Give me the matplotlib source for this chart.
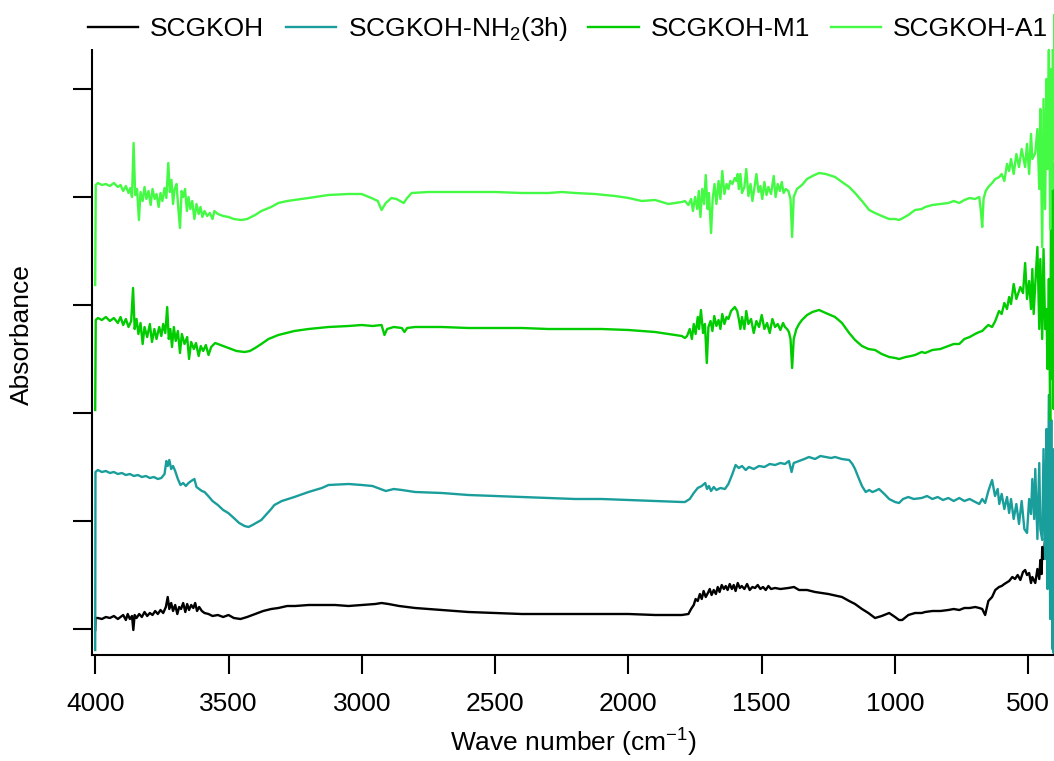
"""
FTIR absorbance spectra of SCGKOH and its modified samples (offset stack)
"""

import matplotlib

matplotlib.use("Agg")
import matplotlib.pyplot as plt

plt.rcParams["font.family"] = ["Liberation Sans", "DejaVu Sans"]
plt.rcParams["mathtext.default"] = "regular"
plt.rcParams["font.size"] = 19

# === spectra: (wavenumber cm-1, absorbance a.u. incl. stacking offset) ===
scgkoh = [
    (4000, -1), (3999, 11), (3990, 11), (3975, 10), (3960, 12), (3945, 11),
    (3930, 13), (3915, 10), (3905, 12), (3895, 14), (3885, 9), (3878, 15),
    (3870, 10), (3862, 13), (3857, -1), (3852, 14), (3845, 11), (3835, 15),
    (3825, 12), (3815, 17), (3805, 13), (3795, 16), (3785, 14), (3775, 18),
    (3765, 15), (3755, 19), (3745, 16), (3735, 22), (3728, 32), (3722, 20),
    (3715, 26), (3708, 18), (3700, 24), (3692, 15), (3685, 22), (3678, 20),
    (3670, 26), (3662, 17), (3655, 25), (3648, 19), (3640, 24), (3632, 21),
    (3625, 26), (3618, 18), (3610, 22), (3600, 18), (3590, 16), (3575, 15),
    (3560, 13), (3540, 14), (3520, 12), (3500, 14), (3480, 11), (3455, 10),
    (3430, 12), (3400, 15), (3370, 18), (3340, 20), (3313, 21), (3280, 23),
    (3250, 23), (3200, 24), (3150, 24), (3100, 24), (3050, 23), (3000, 24),
    (2950, 25), (2926, 26), (2900, 25), (2860, 23), (2800, 21), (2700, 19),
    (2600, 17), (2500, 16), (2400, 15), (2300, 15), (2200, 15), (2100, 15),
    (2000, 15), (1900, 14), (1800, 14), (1775, 15), (1765, 20), (1755, 24),
    (1748, 30), (1740, 28), (1732, 35), (1725, 30), (1718, 38), (1710, 32),
    (1702, 36), (1695, 40), (1688, 34), (1680, 39), (1672, 35), (1665, 42),
    (1658, 37), (1650, 44), (1642, 40), (1635, 43), (1628, 39), (1620, 45),
    (1612, 40), (1605, 44), (1598, 38), (1590, 46), (1582, 41), (1575, 43),
    (1565, 40), (1555, 45), (1545, 39), (1535, 42), (1525, 41), (1515, 44),
    (1505, 40), (1495, 42), (1485, 39), (1475, 43), (1465, 40), (1450, 41),
    (1430, 40), (1400, 41), (1379, 42), (1360, 39), (1330, 39), (1300, 37),
    (1250, 35), (1199, 32), (1172, 28), (1150, 25), (1124, 20), (1100, 16),
    (1075, 11), (1050, 13), (1022, 16), (1000, 12), (985, 9), (973, 9),
    (950, 14), (925, 16), (900, 16), (887, 17), (860, 18), (830, 18),
    (800, 19), (780, 20), (759, 19), (740, 21), (720, 21), (699, 22),
    (684, 21), (673, 20), (662, 14), (650, 28), (636, 32), (624, 39),
    (610, 42), (600, 43), (590, 45), (572, 48), (560, 52), (550, 50),
    (540, 54), (530, 49), (520, 57), (512, 59), (505, 54), (497, 56),
    (490, 46), (485, 52), (474, 46), (466, 60), (459, 50), (455, 69),
    (450, 55), (448, 82), (443, 70), (437, 90), (432, 75), (428, 100),
    (423, 80), (418, 116), (415, 70), (412, 110), (410, 20), (408, 95),
    (405, 40), (403, 85), (400, 30),
]

scgkoh_nh2 = [
    (4000, -21), (3999, 157), (3990, 159), (3975, 157), (3960, 158),
    (3945, 156), (3930, 157), (3915, 155), (3900, 156), (3885, 154),
    (3870, 155), (3855, 153), (3840, 154), (3825, 152), (3810, 153),
    (3795, 151), (3780, 152), (3765, 150), (3752, 151), (3740, 155),
    (3733, 168), (3728, 163), (3722, 169), (3715, 160), (3708, 163),
    (3700, 158), (3690, 150), (3680, 144), (3670, 146), (3660, 143),
    (3650, 146), (3640, 148), (3628, 150), (3620, 142), (3610, 140),
    (3600, 138), (3590, 137), (3576, 133), (3560, 128), (3540, 124),
    (3520, 119), (3501, 116), (3480, 111), (3460, 106), (3440, 103),
    (3425, 102), (3410, 104), (3390, 107), (3377, 109), (3360, 114),
    (3340, 120), (3328, 124), (3300, 128), (3253, 132), (3200, 137),
    (3150, 141), (3125, 144), (3050, 145), (3000, 144), (2960, 143),
    (2930, 140), (2910, 138), (2880, 140), (2850, 139), (2800, 137),
    (2700, 136), (2600, 134), (2500, 133), (2400, 132), (2300, 131),
    (2200, 130), (2100, 130), (2000, 129), (1900, 128), (1800, 127),
    (1788, 127), (1770, 130), (1755, 136), (1740, 141), (1725, 143),
    (1712, 146), (1705, 140), (1698, 143), (1690, 138), (1680, 142),
    (1670, 139), (1655, 141), (1638, 140), (1625, 145), (1610, 155),
    (1598, 164), (1586, 161), (1574, 163), (1560, 159), (1548, 162),
    (1530, 160), (1510, 163), (1490, 162), (1470, 165), (1450, 164),
    (1430, 166), (1413, 165), (1398, 168), (1388, 157), (1380, 166),
    (1360, 168), (1340, 170), (1323, 172), (1300, 170), (1280, 173),
    (1260, 172), (1240, 171), (1225, 172), (1200, 170), (1172, 169),
    (1160, 165), (1150, 160), (1135, 150), (1124, 143), (1110, 137),
    (1097, 139), (1085, 137), (1075, 138), (1060, 140), (1040, 135),
    (1022, 130), (1000, 127), (985, 126), (970, 130), (950, 132),
    (930, 130), (900, 131), (880, 133), (860, 130), (840, 132),
    (820, 129), (800, 131), (780, 128), (759, 131), (740, 128),
    (720, 130), (699, 127), (684, 125), (673, 130), (662, 126),
    (650, 138), (636, 149), (625, 133), (615, 140), (609, 125),
    (600, 135), (590, 120), (580, 132), (572, 116), (565, 130),
    (555, 110), (545, 125), (535, 105), (525, 128), (515, 100),
    (505, 96), (497, 130), (490, 115), (485, 150), (478, 110),
    (474, 160), (466, 90), (459, 166), (455, 100), (448, 89),
    (443, 180), (437, 70), (432, 200), (428, 40), (423, 234),
    (418, 10), (414, 209), (410, -20), (408, 180), (405, -24),
    (402, 150), (400, 100),
]

scgkoh_m1 = [
    (4000, 219), (3998, 309), (3990, 311), (3975, 309), (3960, 312),
    (3945, 308), (3930, 311), (3915, 306), (3905, 312), (3895, 304),
    (3885, 310), (3875, 302), (3865, 308), (3858, 341), (3852, 300),
    (3845, 310), (3838, 295), (3830, 306), (3822, 285), (3815, 302),
    (3805, 292), (3795, 305), (3787, 287), (3778, 300), (3770, 290),
    (3760, 302), (3752, 293), (3745, 305), (3737, 296), (3730, 322),
    (3724, 290), (3718, 300), (3712, 282), (3705, 302), (3698, 288),
    (3690, 298), (3682, 276), (3675, 295), (3665, 285), (3655, 292),
    (3648, 270), (3640, 287), (3630, 280), (3622, 286), (3612, 273),
    (3604, 283), (3595, 278), (3585, 284), (3575, 274), (3565, 282),
    (3550, 286), (3520, 283), (3500, 281), (3470, 278), (3440, 277),
    (3420, 278), (3400, 281), (3377, 285), (3350, 290), (3313, 294),
    (3253, 298), (3200, 300), (3125, 302), (3050, 303), (3000, 304),
    (2960, 303), (2926, 304), (2915, 294), (2905, 300), (2880, 302),
    (2850, 301), (2840, 297), (2830, 301), (2800, 302), (2700, 302),
    (2600, 301), (2500, 301), (2400, 301), (2300, 300), (2200, 300),
    (2100, 300), (2000, 299), (1900, 297), (1800, 293), (1788, 291),
    (1780, 293), (1770, 300), (1762, 290), (1755, 305), (1748, 295),
    (1740, 312), (1735, 300), (1728, 319), (1720, 296), (1713, 305),
    (1706, 266), (1700, 302), (1692, 308), (1685, 298), (1678, 313),
    (1670, 303), (1662, 309), (1655, 300), (1648, 315), (1640, 305),
    (1632, 312), (1625, 310), (1615, 318), (1601, 322), (1592, 318),
    (1586, 310), (1580, 300), (1574, 312), (1565, 300), (1558, 318),
    (1550, 305), (1540, 310), (1530, 296), (1520, 308), (1510, 302),
    (1500, 314), (1490, 300), (1480, 306), (1470, 296), (1460, 310),
    (1450, 302), (1440, 305), (1430, 299), (1420, 306), (1413, 302),
    (1405, 300), (1398, 297), (1392, 290), (1386, 261), (1380, 290),
    (1370, 300), (1360, 305), (1349, 309), (1330, 314), (1310, 317),
    (1285, 319), (1260, 316), (1225, 312), (1199, 306), (1172, 296),
    (1150, 289), (1124, 283), (1100, 280), (1075, 279), (1050, 275),
    (1022, 272), (999, 271), (985, 270), (960, 272), (940, 273),
    (925, 274), (900, 277), (887, 276), (860, 279), (830, 280),
    (800, 283), (780, 285), (759, 285), (740, 290), (720, 292),
    (700, 295), (684, 297), (673, 298), (662, 301), (650, 304),
    (636, 302), (624, 308), (610, 318), (600, 315), (590, 326),
    (580, 320), (572, 332), (565, 325), (555, 345), (545, 330),
    (530, 342), (520, 336), (512, 366), (505, 330), (497, 348),
    (490, 320), (485, 360), (480, 315), (474, 345), (466, 382),
    (459, 300), (455, 370), (448, 290), (443, 380), (437, 300),
    (432, 320), (428, 260), (423, 350), (418, 209), (415, 430),
    (412, 250), (410, 466), (408, 300), (405, 220), (402, 350),
    (400, 280),
]

scgkoh_a1 = [
    (4000, 344), (3998, 444), (3990, 446), (3975, 444), (3960, 445),
    (3945, 443), (3930, 446), (3915, 442), (3905, 444), (3895, 438),
    (3885, 443), (3875, 436), (3868, 441), (3862, 432), (3856, 486),
    (3850, 434), (3843, 440), (3836, 409), (3830, 437), (3822, 428),
    (3815, 442), (3808, 430), (3800, 438), (3792, 424), (3785, 440),
    (3777, 430), (3770, 435), (3762, 422), (3755, 436), (3748, 428),
    (3740, 441), (3733, 431), (3726, 466), (3720, 437), (3714, 449),
    (3708, 425), (3702, 440), (3695, 445), (3688, 420), (3682, 401),
    (3676, 438), (3670, 432), (3663, 440), (3656, 418), (3650, 432),
    (3643, 420), (3636, 428), (3628, 410), (3620, 425), (3612, 415),
    (3605, 422), (3598, 412), (3590, 418), (3580, 413), (3570, 416),
    (3560, 410), (3553, 418), (3540, 415), (3520, 413), (3500, 412),
    (3480, 410), (3452, 409), (3430, 410), (3400, 414), (3377, 418),
    (3340, 422), (3313, 426), (3280, 428), (3253, 429), (3200, 431),
    (3125, 434), (3050, 435), (3001, 435), (2964, 431), (2940, 428),
    (2926, 419), (2910, 426), (2889, 431), (2870, 430), (2843, 426),
    (2830, 431), (2813, 436), (2750, 437), (2663, 437), (2600, 437),
    (2500, 437), (2400, 436), (2300, 436), (2250, 437), (2200, 436),
    (2126, 435), (2050, 433), (1999, 431), (1950, 428), (1900, 429),
    (1875, 427), (1850, 425), (1800, 427), (1788, 428), (1775, 424),
    (1765, 430), (1758, 418), (1750, 432), (1742, 420), (1736, 438),
    (1730, 412), (1723, 440), (1716, 425), (1710, 454), (1703, 420),
    (1698, 436), (1690, 396), (1684, 430), (1677, 445), (1670, 425),
    (1662, 448), (1655, 430), (1648, 458), (1640, 435), (1632, 445),
    (1625, 440), (1618, 448), (1610, 445), (1601, 451), (1595, 448),
    (1590, 455), (1586, 440), (1580, 455), (1574, 436), (1565, 442),
    (1558, 460), (1550, 433), (1542, 445), (1535, 428), (1528, 440),
    (1520, 455), (1512, 437), (1505, 443), (1498, 430), (1490, 447),
    (1482, 434), (1475, 442), (1465, 435), (1455, 453), (1448, 432),
    (1440, 445), (1432, 438), (1425, 447), (1418, 436), (1410, 440),
    (1400, 438), (1392, 430), (1386, 392), (1380, 432), (1368, 440),
    (1349, 444), (1330, 450), (1310, 453), (1285, 456), (1260, 455),
    (1225, 452), (1199, 447), (1172, 442), (1150, 436), (1124, 428),
    (1097, 419), (1075, 416), (1050, 413), (1022, 410), (999, 410),
    (985, 409), (970, 411), (950, 414), (925, 419), (900, 420),
    (887, 422), (860, 424), (830, 425), (800, 426), (780, 428),
    (759, 426), (740, 429), (720, 431), (700, 430), (684, 432),
    (678, 418), (673, 402), (668, 430), (660, 438), (650, 442),
    (636, 446), (624, 450), (609, 452), (600, 455), (590, 448),
    (580, 465), (572, 458), (565, 470), (555, 455), (545, 475),
    (535, 462), (525, 480), (512, 462), (505, 485), (497, 455),
    (490, 495), (485, 470), (474, 476), (466, 500), (459, 440),
    (455, 520), (448, 382), (443, 530), (437, 420), (432, 550),
    (428, 460), (423, 579), (418, 400), (414, 560), (410, 440),
    (408, 620), (405, 480), (402, 520), (400, 470),
]

labels = ["SCGKOH", "SCGKOH-NH$_2$(3h)", "SCGKOH-M1", "SCGKOH-A1"]
colors = ["#000000", "#1a9e9c", "#00cc00", "#44fa44"]
x_ticks = [4000, 3500, 3000, 2500, 2000, 1500, 1000, 500]
y_ticks = [0, 108, 216, 324, 432, 540]


def draw():
    fig = plt.figure(figsize=(10.54, 7.61), dpi=100)
    ax = fig.add_axes([92 / 1054, 106 / 761, 963 / 1054, 641 / 761])

    for spec, label, color in zip(
        [scgkoh, scgkoh_nh2, scgkoh_m1, scgkoh_a1], labels, colors
    ):
        wn, ab = zip(*spec)
        ax.plot(wn, ab, color=color, lw=1.7, label=label)

    ax.set_xlim(4012, 400)
    ax.set_ylim(-26, 615)
    ax.set_xticks(x_ticks)
    ax.set_yticks(y_ticks)
    ax.set_yticklabels([])

    for side in ("top", "right"):
        ax.spines[side].set_visible(False)
    for side in ("left", "bottom"):
        ax.spines[side].set_linewidth(1.5)
    ax.tick_params(axis="both", direction="out", width=1.5, length=13.5)
    ax.tick_params(axis="x", pad=13)

    ax.set_xlabel("Wave number (cm$^{-1}$)", labelpad=8)
    ax.set_ylabel("Absorbance")
    ax.yaxis.set_label_coords(-0.06, 0.5)

    leg = ax.legend(
        loc="upper left",
        bbox_to_anchor=(83 / 1054, 1 - 10 / 761),
        bbox_transform=fig.transFigure,
        ncol=4,
        frameon=True,
        fancybox=False,
        borderpad=0.2,
        borderaxespad=0,
        handlelength=1.9,
        handletextpad=0.45,
        columnspacing=0.8,
    )
    leg.get_frame().set_facecolor("white")
    leg.get_frame().set_edgecolor("none")
    leg.get_frame().set_alpha(1)

    return fig


if __name__ == "__main__":
    fig = draw()
    fig.savefig("out.png", dpi=100)
